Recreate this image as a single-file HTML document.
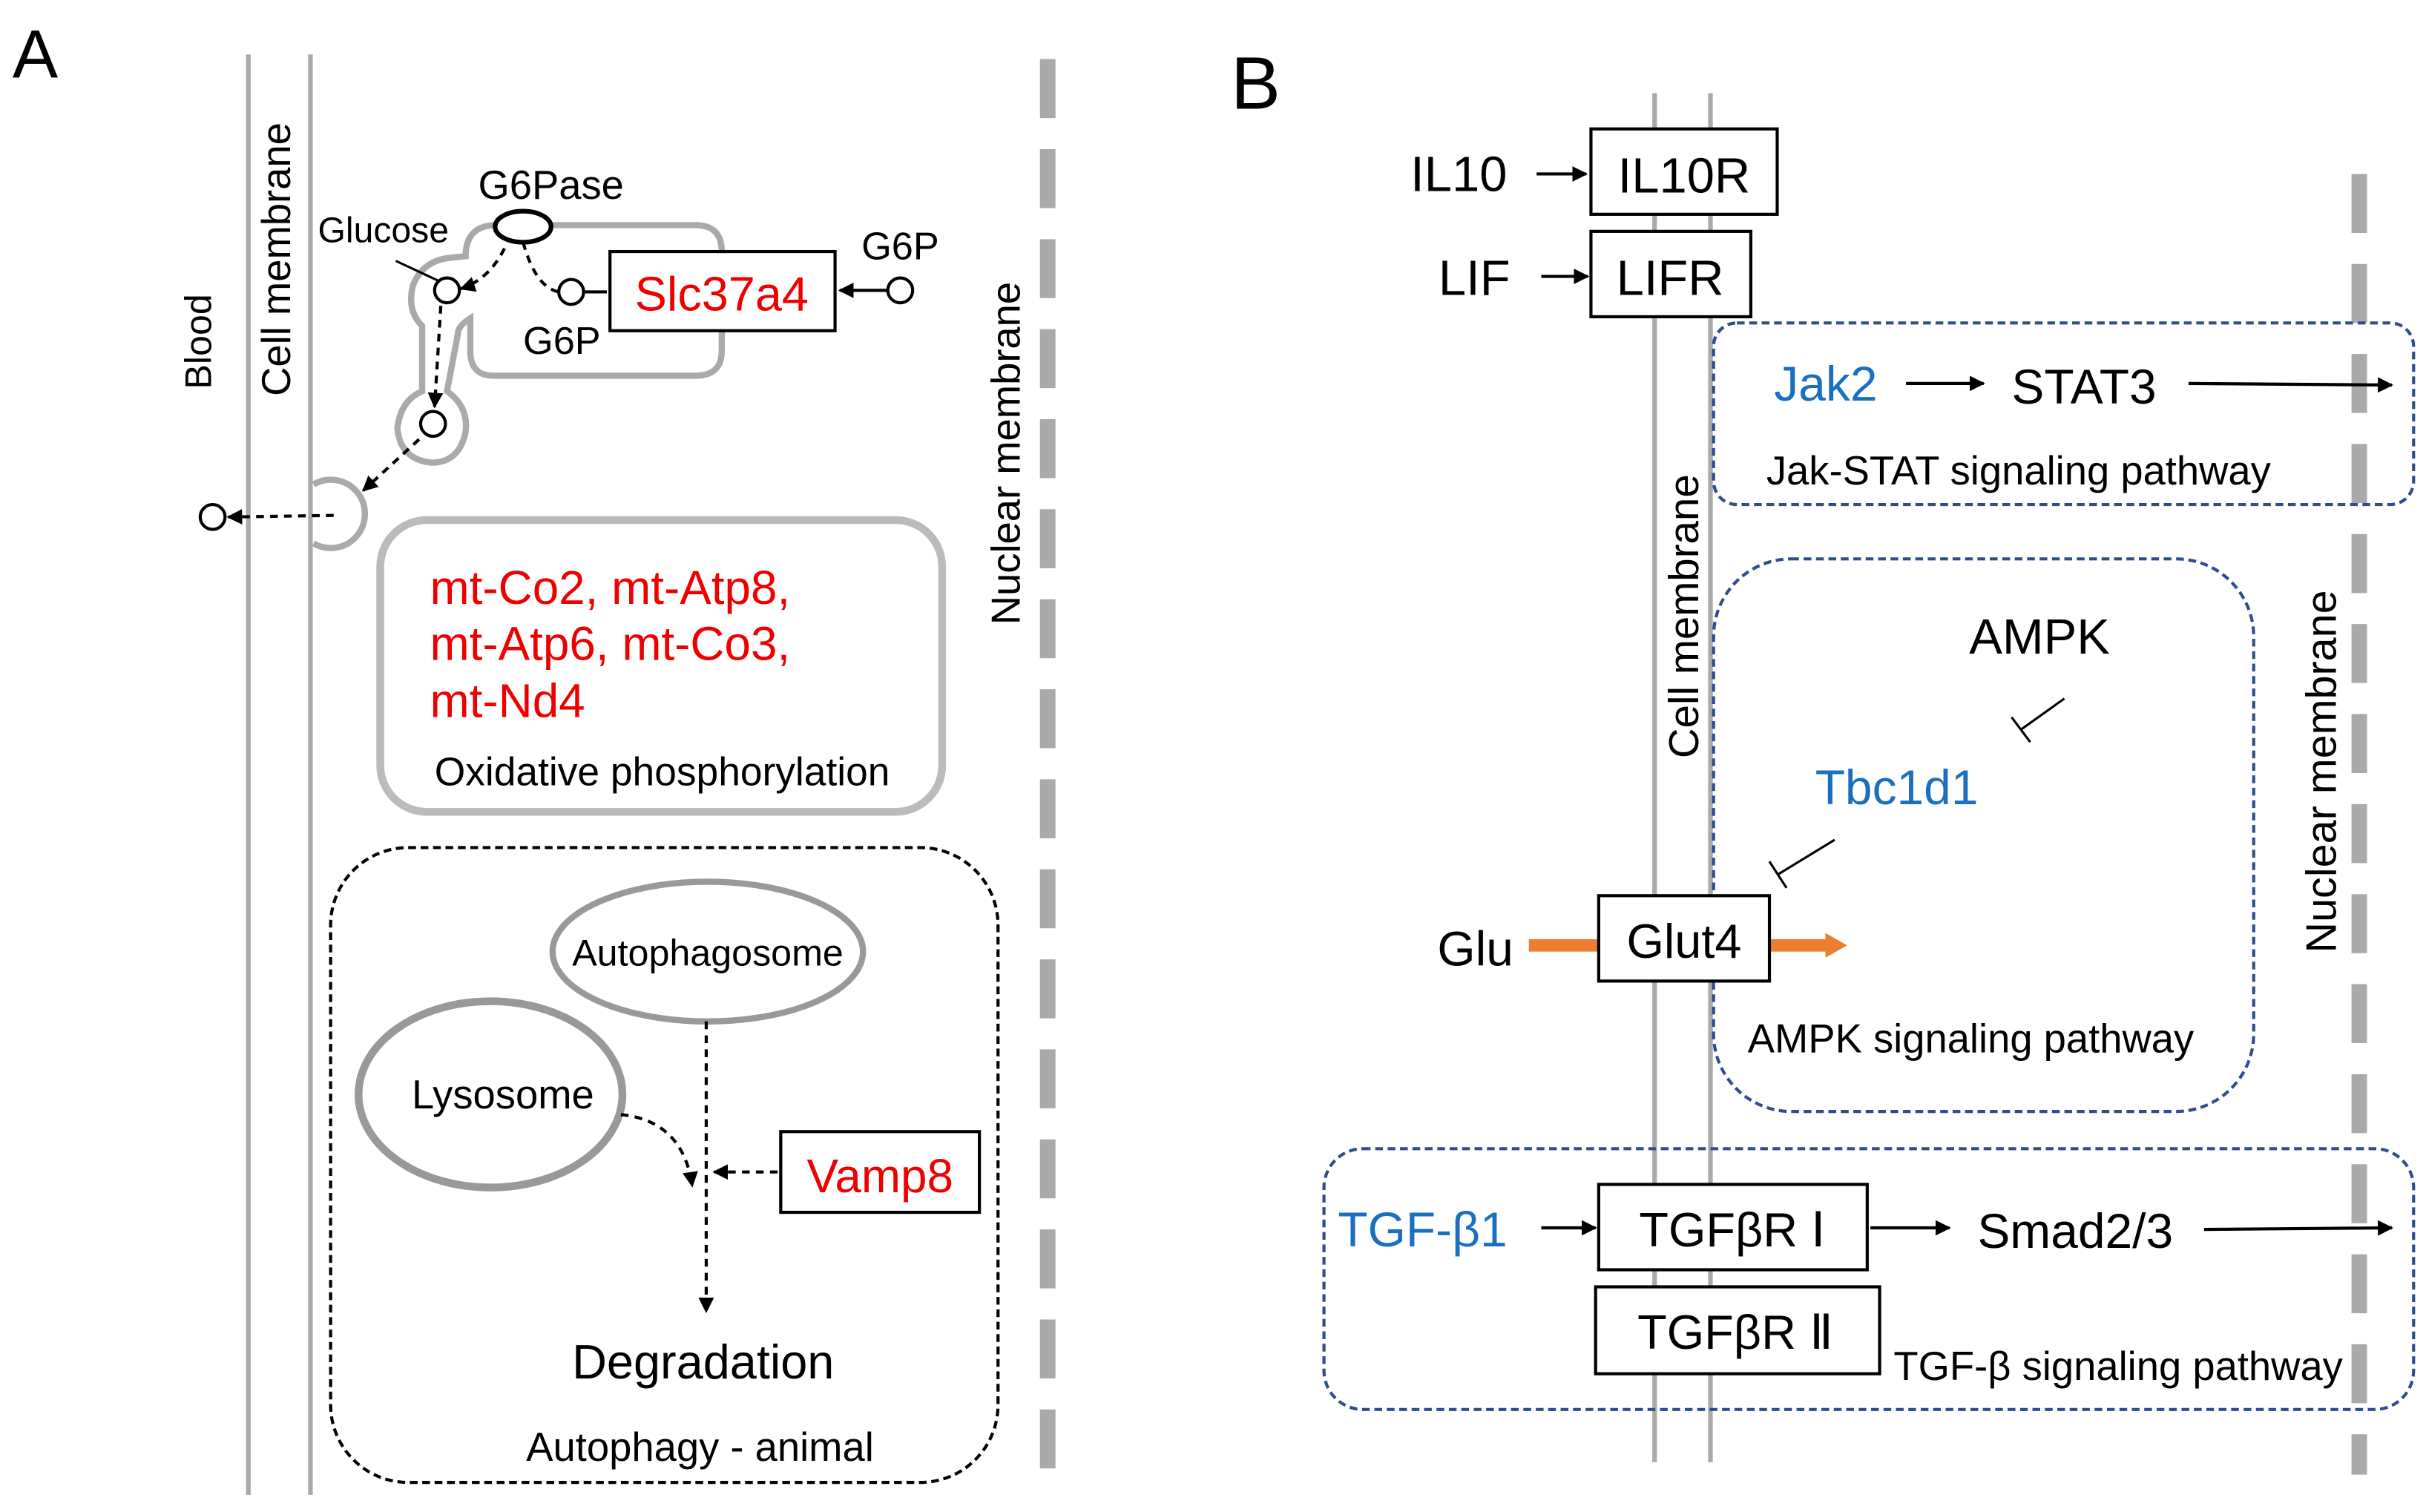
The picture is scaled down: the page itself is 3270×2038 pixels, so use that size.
<!DOCTYPE html>
<html><head><meta charset="utf-8"><style>html,body{margin:0;padding:0;background:#fff}svg{display:block}text{font-family:"Liberation Sans",sans-serif}</style></head>
<body>
<svg width="3270" height="2038" viewBox="0 0 1563 974" xmlns="http://www.w3.org/2000/svg">
<defs>
<marker id="ah" markerWidth="10" markerHeight="10" refX="9" refY="5" orient="auto" markerUnits="userSpaceOnUse"><path d="M0,0 L10,5 L0,10 z" fill="#000"/></marker>
<marker id="oh" markerWidth="14" markerHeight="16" refX="4" refY="8" orient="auto" markerUnits="userSpaceOnUse"><path d="M0,0 L14,8 L0,16 z" fill="#ed7d31"/></marker>
</defs>
<rect width="1563" height="974" fill="#fff"/>
<!-- Panel A -->
<text x="8" y="50" font-size="44">A</text>
<line x1="160" y1="35" x2="160" y2="963" stroke="#aaa" stroke-width="3"/>
<line x1="200" y1="35" x2="200" y2="963" stroke="#aaa" stroke-width="3"/>
<text transform="translate(136,220) rotate(-90)" font-size="24" text-anchor="middle">Blood</text>
<text transform="translate(187,167) rotate(-90)" font-size="26" text-anchor="middle">Cell membrane</text>
<line x1="675" y1="38" x2="675" y2="963" stroke="#aaa" stroke-width="10" stroke-dasharray="38,20"/>
<text transform="translate(657,292) rotate(-90)" font-size="26" text-anchor="middle">Nuclear membrane</text>
<!-- ER -->
<path d="M300,165 Q300,145 320,145 L448,145 Q465,145 465,162 L465,226 Q465,242 448,242 L318,242 Q303,242 303,226 L303,205 Q295,210 295,215 L288,252 Q302,262 300,278 Q296,298 278,298 Q258,296 256,276 Q258,258 272,252 L272,210 Q262,200 266,184 Q272,168 290,166 Z" fill="none" stroke="#aaa" stroke-width="4"/>
<path d="M202,312 A22,22 0 1 1 202,350" fill="none" stroke="#aaa" stroke-width="4"/>
<ellipse cx="337" cy="146" rx="18" ry="10" fill="#fff" stroke="#000" stroke-width="3"/>
<text x="355" y="128" font-size="26" text-anchor="middle">G6Pase</text>
<text x="247" y="156" font-size="23" text-anchor="middle">Glucose</text>
<line x1="255" y1="168" x2="285" y2="182" stroke="#000" stroke-width="1.5"/>
<rect x="393" y="162" width="145" height="51" fill="#fff" stroke="#000" stroke-width="2"/>
<text x="465" y="200" font-size="31" fill="#e00" text-anchor="middle">Slc37a4</text>
<text x="580" y="167" font-size="25" text-anchor="middle">G6P</text>
<text x="362" y="228" font-size="25" text-anchor="middle">G6P</text>
<g fill="#fff" stroke="#000" stroke-width="2">
<circle cx="288" cy="187" r="8"/><circle cx="368" cy="188" r="8"/><circle cx="580" cy="187" r="8"/><circle cx="279" cy="273" r="8"/><circle cx="137" cy="333" r="8"/></g>
<line x1="572" y1="187" x2="541" y2="187" stroke="#000" stroke-width="2" marker-end="url(#ah)"/>
<line x1="391" y1="188" x2="377" y2="188" stroke="#000" stroke-width="2"/>
<g fill="none" stroke="#000" stroke-width="2" stroke-dasharray="5,4">
<path d="M337,156 Q345,185 360,188"/>
<path d="M325,160 Q315,180 297,186" marker-end="url(#ah)"/>
<path d="M284,197 L280,262" marker-end="url(#ah)"/>
<path d="M270,283 L234,316" marker-end="url(#ah)"/>
<path d="M215,332 L147,333" marker-end="url(#ah)"/>
</g>
<rect x="245" y="335" width="362" height="188" rx="30" fill="none" stroke="#bbb" stroke-width="5"/>
<g font-size="30.5" fill="#e00"><text x="277" y="389">mt-Co2, mt-Atp8,</text><text x="277" y="425">mt-Atp6, mt-Co3,</text><text x="277" y="462">mt-Nd4</text></g>
<text x="280" y="506" font-size="25.5">Oxidative phosphorylation</text>
<rect x="213" y="546" width="430" height="409" rx="50" fill="none" stroke="#000" stroke-width="2" stroke-dasharray="5,3"/>
<ellipse cx="456" cy="613" rx="100" ry="45" fill="none" stroke="#999" stroke-width="4"/>
<text x="456" y="622" font-size="24" text-anchor="middle">Autophagosome</text>
<ellipse cx="316" cy="705" rx="85" ry="60" fill="none" stroke="#999" stroke-width="5"/>
<text x="324" y="714" font-size="26" text-anchor="middle">Lysosome</text>
<rect x="503" y="729" width="128" height="52" fill="#fff" stroke="#000" stroke-width="2"/>
<text x="567" y="768" font-size="30.5" fill="#e00" text-anchor="middle">Vamp8</text>
<g fill="none" stroke="#000" stroke-width="2" stroke-dasharray="5,4">
<path d="M455,658 L455,845" marker-end="url(#ah)"/>
<path d="M400,718 Q440,722 446,764" marker-end="url(#ah)"/>
<path d="M501,755 L460,755" marker-end="url(#ah)"/>
</g>
<text x="453" y="888" font-size="31" text-anchor="middle">Degradation</text>
<text x="451" y="941" font-size="26" text-anchor="middle">Autophagy - animal</text>
<!-- Panel B -->
<text x="793" y="70" font-size="48">B</text>
<line x1="1066" y1="60" x2="1066" y2="942" stroke="#aaa" stroke-width="3"/>
<line x1="1102" y1="60" x2="1102" y2="942" stroke="#aaa" stroke-width="3"/>
<line x1="1520" y1="112" x2="1520" y2="950" stroke="#aaa" stroke-width="10" stroke-dasharray="38,20"/>
<text transform="translate(1505,497) rotate(-90)" font-size="27.5" text-anchor="middle">Nuclear membrane</text>
<text transform="translate(1094,397) rotate(-90)" font-size="27" text-anchor="middle">Cell membrane</text>
<text x="971" y="123" font-size="32" text-anchor="end">IL10</text>
<line x1="990" y1="112" x2="1022" y2="112" stroke="#000" stroke-width="2" marker-end="url(#ah)"/>
<rect x="1025" y="83" width="120" height="55" fill="#fff" stroke="#000" stroke-width="2"/>
<text x="1085" y="124" font-size="32" text-anchor="middle">IL10R</text>
<text x="973" y="190" font-size="32" text-anchor="end">LIF</text>
<line x1="993" y1="178" x2="1023" y2="178" stroke="#000" stroke-width="2" marker-end="url(#ah)"/>
<rect x="1025" y="149" width="103" height="55" fill="#fff" stroke="#000" stroke-width="2"/>
<text x="1076" y="190" font-size="32" text-anchor="middle">LIFR</text>
<g fill="none" stroke="#2e4d8f" stroke-width="2" stroke-dasharray="5,3">
<rect x="1104" y="208" width="451" height="117" rx="15"/>
<rect x="1104" y="360" width="348" height="356" rx="50"/>
<rect x="853" y="740" width="702" height="168" rx="25"/>
</g>
<text x="1143" y="258" font-size="31.5" fill="#1a6fbf">Jak2</text>
<line x1="1228" y1="247" x2="1278" y2="247" stroke="#000" stroke-width="2" marker-end="url(#ah)"/>
<text x="1296" y="260" font-size="31.5">STAT3</text>
<line x1="1410" y1="247" x2="1541" y2="248" stroke="#000" stroke-width="2" marker-end="url(#ah)"/>
<text x="1138" y="312" font-size="26">Jak-STAT signaling pathway</text>
<text x="1314" y="421" font-size="32" text-anchor="middle">AMPK</text>
<line x1="1330" y1="450" x2="1302" y2="470" stroke="#000" stroke-width="1.5"/>
<line x1="1296" y1="462" x2="1308" y2="478" stroke="#000" stroke-width="1.5"/>
<text x="1222" y="518" font-size="31.5" fill="#1a6fbf" text-anchor="middle">Tbc1d1</text>
<line x1="1182" y1="541" x2="1146" y2="563" stroke="#000" stroke-width="1.5"/>
<line x1="1140" y1="555" x2="1151" y2="572" stroke="#000" stroke-width="1.5"/>
<text x="926" y="622" font-size="31.5">Glu</text>
<line x1="985" y1="609" x2="1030" y2="609" stroke="#ed7d31" stroke-width="8"/>
<line x1="1140" y1="609" x2="1180" y2="609" stroke="#ed7d31" stroke-width="8" marker-end="url(#oh)"/>
<rect x="1030" y="577" width="110" height="55" fill="#fff" stroke="#000" stroke-width="2"/>
<text x="1085" y="617" font-size="31" text-anchor="middle">Glut4</text>
<text x="1126" y="678" font-size="26">AMPK signaling pathway</text>
<text x="862" y="803" font-size="31.5" fill="#1a6fbf">TGF-β1</text>
<line x1="993" y1="791" x2="1028" y2="791" stroke="#000" stroke-width="2" marker-end="url(#ah)"/>
<rect x="1030" y="763" width="173" height="55" fill="#fff" stroke="#000" stroke-width="2"/>
<text x="1116" y="803" font-size="31" text-anchor="middle">TGFβR Ⅰ</text>
<line x1="1205" y1="791" x2="1256" y2="791" stroke="#000" stroke-width="2" marker-end="url(#ah)"/>
<text x="1274" y="804" font-size="31.5">Smad2/3</text>
<line x1="1420" y1="792" x2="1541" y2="791" stroke="#000" stroke-width="2" marker-end="url(#ah)"/>
<rect x="1028" y="829" width="183" height="56" fill="#fff" stroke="#000" stroke-width="2"/>
<text x="1118" y="869" font-size="31" text-anchor="middle">TGFβR Ⅱ</text>
<text x="1220" y="889" font-size="26">TGF-β signaling pathway</text>
</svg>
</body></html>
